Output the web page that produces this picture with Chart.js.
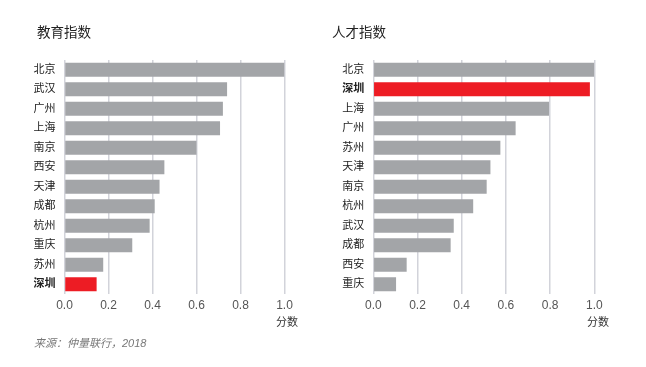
<!DOCTYPE html>
<html>
<head>
<meta charset="utf-8">
<script src="https://cdn.jsdelivr.net/npm/chart.js@4.4.0/dist/chart.umd.min.js"></script>
<style>
    body { margin: 0; background: #fff; width: 646px; height: 367px; position: relative; overflow: hidden; font-family: "Liberation Sans", "Noto Sans CJK SC", sans-serif; }
    .box { position: absolute; top: 0; height: 367px; }
    .title { position: absolute; top: 21px; font-size: 13.5px; color: #222; }
    .unit { position: absolute; top: 313px; font-size: 11px; color: #333; }
    .src { position: absolute; left: 34px; top: 334px; font-size: 11px; color: #777; font-style: italic; }
</style>
</head>
<body>
<div class="box" style="left:0;width:320px"><canvas id="eduChart"></canvas></div>
<div class="box" style="left:320px;width:326px"><canvas id="talentChart"></canvas></div>
<div class="title" style="left:37px">教育指数</div>
<div class="title" style="left:332px">人才指数</div>
<div class="unit" style="left:276px">分数</div>
<div class="unit" style="left:587px">分数</div>
<div class="src">来源：仲量联行，2018</div>
<script>
var eduCities = ["北京", "武汉", "广州", "上海", "南京", "西安", "天津", "成都", "杭州", "重庆", "苏州", "深圳"];
var eduValues = [1.0, 0.739, 0.72, 0.707, 0.60, 0.454, 0.432, 0.41, 0.387, 0.308, 0.176, 0.146];

var talentCities = ["北京", "深圳", "上海", "广州", "苏州", "天津", "南京", "杭州", "武汉", "成都", "西安", "重庆"];
var talentValues = [1.0, 0.98, 0.795, 0.644, 0.575, 0.53, 0.513, 0.452, 0.364, 0.35, 0.151, 0.103];

var xTicks = [0, 0.2, 0.4, 0.6, 0.8, 1.0];
var highlight = "深圳";

var fontFam = '"Liberation Sans", "Noto Sans CJK SC", sans-serif';

let drawIndex = (id, cities, values, yWidth, padRight) => {
    var ctx = document.getElementById(id).getContext("2d");
    return new Chart(ctx, {
        type: "bar",
        data: {
            labels: cities,
            datasets: [
                {
                    data: values,
                    backgroundColor: cities.map((c) => (c === highlight ? "#ed1c24" : "#a3a5a8")),
                    borderWidth: 0,
                    barPercentage: 0.72,
                    categoryPercentage: 1.0,
                },
            ],
        },
        options: {
            indexAxis: "y",
            responsive: true,
            maintainAspectRatio: false,
            animation: false,
            layout: { padding: { left: 0, right: padRight, top: 60, bottom: 53 } },
            plugins: { legend: { display: false }, tooltip: { enabled: false } },
            scales: {
                x: {
                    min: 0,
                    max: 1,
                    afterBuildTicks: (axis) => {
                        axis.ticks = xTicks.map((v) => ({ value: v }));
                    },
                    afterFit: (axis) => {
                        axis.height = 20;
                    },
                    grid: { color: "#d2d3da", lineWidth: 1.5, drawTicks: false },
                    border: { display: false },
                    ticks: {
                        padding: 4,
                        color: "#555",
                        font: { family: fontFam, size: 12 },
                        callback: (v) => Number(v).toFixed(1),
                    },
                },
                y: {
                    afterFit: (axis) => {
                        axis.width = yWidth;
                    },
                    grid: { display: false, drawTicks: false },
                    border: { display: false },
                    ticks: {
                        padding: 9,
                        color: "#222",
                        font: (c) => ({
                            family: fontFam,
                            size: 11,
                            weight: cities[c.index] === highlight ? "bold" : "normal",
                        }),
                    },
                },
            },
        },
    });
};

drawIndex("eduChart", eduCities, eduValues, 64.5, 35.5);
drawIndex("talentChart", talentCities, talentValues, 53.3, 51.7);
</script>
</body>
</html>
